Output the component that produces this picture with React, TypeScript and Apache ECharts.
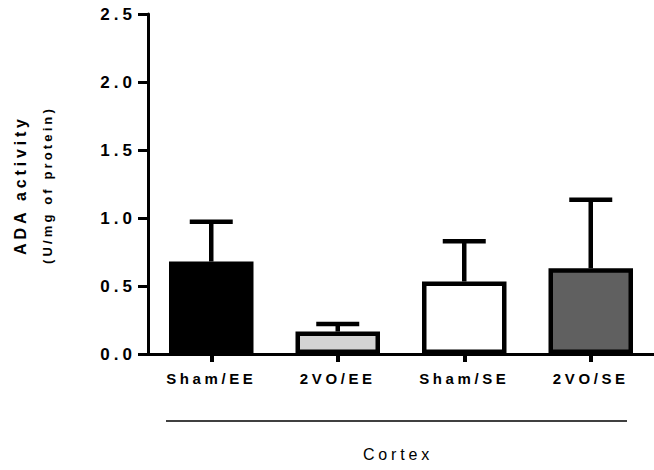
import React, { useEffect, useRef } from "react";
import * as echarts from "echarts";

const categories = ["Sham/EE", "2VO/EE", "Sham/SE", "2VO/SE"];
const means = [0.68, 0.165, 0.533, 0.63];
const sems = [0.293, 0.055, 0.296, 0.505];
const barColors = ["#000000", "#d3d3d3", "#ffffff", "#606060"];
const yMin = 0;
const yMax = 2.5;
const yStep = 0.5;
const yTitle = "ADA activity";
const ySubtitle = "(U/mg of protein)";
const groupLabel = "Cortex";

const FONT = "'Liberation Sans', Arial, Helvetica, sans-serif";

export default function App() {
  const ref = useRef<HTMLDivElement | null>(null);

  useEffect(() => {
    if (!ref.current) return;
    const chart = echarts.init(ref.current, undefined, { renderer: "svg" });

    const barData = means.map((m, i) => ({
      value: m,
      itemStyle: {
        color: barColors[i],
        borderColor: "#000",
        borderWidth: 4.5,
      },
    }));
    const errData = means.map((m, i) => [i, m, m + sems[i]]);

    const option: any = {
      animation: false,
      grid: { left: 148, top: 14, width: 509, height: 340, containLabel: false },
      xAxis: {
        type: "category",
        data: categories,
        axisLine: { show: true, lineStyle: { color: "#000", width: 3 } },
        axisTick: { show: true, alignWithLabel: true, length: 8, lineStyle: { color: "#000", width: 4 } },
        axisLabel: {
          interval: 0,
          margin: 17,
          color: "#000",
          fontFamily: FONT,
          fontWeight: "bold",
          fontSize: 15,
        },
        splitLine: { show: false },
      },
      yAxis: {
        type: "value",
        min: yMin,
        max: yMax,
        interval: yStep,
        axisLine: { show: true, lineStyle: { color: "#000", width: 3 } },
        axisTick: { show: true, length: 10, lineStyle: { color: "#000", width: 3 } },
        axisLabel: {
          margin: 12,
          color: "#000",
          fontFamily: FONT,
          fontWeight: "bold",
          fontSize: 17,
          formatter: (v: number) => v.toFixed(1),
        },
        splitLine: { show: false },
      },
      series: [
        {
          type: "bar",
          data: barData,
          barWidth: 84.5,
          z: 3,
        },
        {
          type: "custom",
          z: 4,
          data: errData,
          renderItem: (params: any, api: any) => {
            const x = api.value(0);
            const lo = api.coord([x, api.value(1)]);
            const hi = api.coord([x, api.value(2)]);
            const half = 21.5;
            const st = { stroke: "#000", lineWidth: 4.5 };
            return {
              type: "group",
              children: [
                { type: "line", shape: { x1: lo[0], y1: lo[1], x2: hi[0], y2: hi[1] }, style: st },
                { type: "line", shape: { x1: hi[0] - half, y1: hi[1], x2: hi[0] + half, y2: hi[1] }, style: st },
              ],
            };
          },
        },
      ],
      graphic: [
        {
          type: "text",
          x: 20,
          y: 185,
          rotation: Math.PI / 2,
          style: {
            text: yTitle,
            fill: "#000",
            font: `bold 16px ${FONT}`,
            align: "center",
            verticalAlign: "middle",
          },
        },
        {
          type: "text",
          x: 47,
          y: 185,
          rotation: Math.PI / 2,
          style: {
            text: ySubtitle,
            fill: "#000",
            font: `bold 13px ${FONT}`,
            align: "center",
            verticalAlign: "middle",
          },
        },
        {
          type: "line",
          shape: { x1: 166, y1: 421, x2: 627, y2: 421 },
          style: { stroke: "#000", lineWidth: 1.6 },
        },
        {
          type: "text",
          x: 398,
          y: 454,
          style: {
            text: groupLabel,
            fill: "#000",
            font: `16px ${FONT}`,
            align: "center",
            verticalAlign: "middle",
          },
        },
      ],
    };

    chart.setOption(option);
    return () => {
      chart.dispose();
    };
  }, []);

  return (
    <>
      <style>{`.ada-chart svg text { letter-spacing: 0.24em; }`}</style>
      <div
        ref={ref}
        className="ada-chart"
        style={{ position: "fixed", left: 0, top: 0, width: 654, height: 470, background: "#fff" }}
      />
    </>
  );
}
